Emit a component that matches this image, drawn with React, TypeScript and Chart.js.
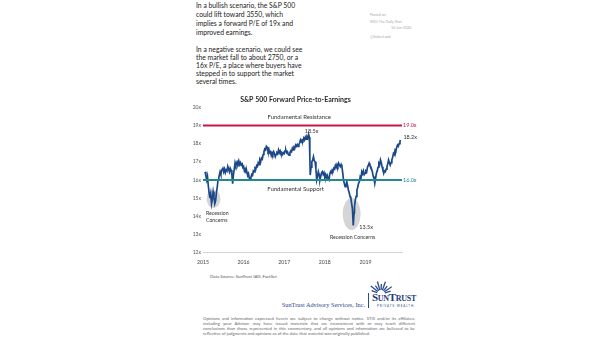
import React, { useEffect, useRef } from 'react';
import { Chart, registerables } from 'chart.js';

Chart.register(...registerables);

// ---------- DATA ----------
const pe2015 = [
  [2015.05, 16.45], [2015.07, 16.25], [2015.09, 16.0], [2015.11, 16.2], [2015.13, 15.7], [2015.15, 15.3],
  [2015.17, 15.0], [2015.19, 15.25], [2015.21, 14.7], [2015.23, 14.95], [2015.25, 15.35], [2015.27, 15.05],
  [2015.29, 14.7], [2015.31, 14.85], [2015.33, 15.3], [2015.35, 15.6], [2015.37, 16.0], [2015.39, 16.15],
  [2015.42, 16.45], [2015.44, 16.3], [2015.46, 16.55], [2015.49, 16.65], [2015.51, 16.45], [2015.53, 16.6],
  [2015.55, 16.4], [2015.57, 16.55], [2015.59, 16.5], [2015.61, 16.75], [2015.63, 16.6], [2015.65, 16.45],
  [2015.67, 16.65], [2015.69, 16.55], [2015.71, 16.3], [2015.73, 15.8], [2015.75, 16.3], [2015.77, 16.6],
  [2015.79, 16.95], [2015.81, 16.8], [2015.84, 17.0], [2015.86, 16.9], [2015.88, 17.05], [2015.9, 16.85],
  [2015.92, 16.95], [2015.94, 16.8], [2015.96, 16.95], [2015.98, 16.7],
];
const pe2016 = [
  [2016.0, 16.75], [2016.02, 16.5], [2016.04, 16.6], [2016.06, 16.4], [2016.08, 16.45], [2016.1, 16.25],
  [2016.12, 16.35], [2016.14, 16.1], [2016.16, 16.0], [2016.18, 16.15], [2016.2, 16.3], [2016.22, 16.25],
  [2016.24, 16.5], [2016.26, 16.45], [2016.28, 16.65], [2016.3, 16.6], [2016.32, 16.8], [2016.34, 16.75],
  [2016.36, 16.95], [2016.38, 16.85], [2016.4, 17.1], [2016.42, 17.0], [2016.44, 17.2], [2016.46, 17.15],
  [2016.48, 17.4], [2016.5, 17.55], [2016.52, 17.7], [2016.54, 17.65], [2016.56, 17.85], [2016.58, 17.8],
  [2016.6, 17.6], [2016.62, 17.7], [2016.64, 17.5], [2016.66, 17.55], [2016.68, 17.35], [2016.7, 17.5],
  [2016.72, 17.4], [2016.74, 17.55], [2016.76, 17.45], [2016.78, 17.28], [2016.8, 17.4], [2016.82, 17.5],
  [2016.84, 17.45], [2016.86, 17.65], [2016.88, 17.5], [2016.9, 17.6], [2016.92, 17.45], [2016.94, 17.5],
  [2016.96, 17.4], [2016.98, 17.5],
];
const pe2017 = [
  [2017.0, 17.45], [2017.02, 17.6], [2017.04, 17.65], [2017.06, 17.5], [2017.08, 17.55], [2017.1, 17.4],
  [2017.12, 17.37], [2017.14, 17.5], [2017.16, 17.6], [2017.18, 17.55], [2017.2, 17.74], [2017.22, 17.65],
  [2017.24, 17.8], [2017.26, 17.75], [2017.28, 17.92], [2017.3, 17.85], [2017.32, 17.95], [2017.34, 17.85],
  [2017.36, 17.92], [2017.38, 18.05], [2017.4, 18.2], [2017.42, 18.1], [2017.44, 18.2], [2017.46, 18.15],
  [2017.48, 18.3], [2017.5, 18.2], [2017.52, 18.35], [2017.54, 18.25], [2017.56, 18.38], [2017.58, 18.3],
  [2017.6, 18.5], [2017.62, 18.35], [2017.63, 17.3], [2017.64, 16.27], [2017.66, 16.7], [2017.68, 17.0],
  [2017.7, 17.1], [2017.72, 17.28], [2017.74, 17.05], [2017.76, 17.0], [2017.78, 16.6], [2017.8, 16.0],
  [2017.82, 16.2], [2017.84, 16.46], [2017.86, 16.3], [2017.88, 16.0], [2017.9, 16.2], [2017.92, 16.4],
  [2017.94, 16.46], [2017.96, 16.3], [2017.98, 16.4],
];
const pe2018 = [
  [2018.0, 16.2], [2018.02, 16.3], [2018.04, 16.15], [2018.06, 16.25], [2018.08, 16.05], [2018.1, 16.0],
  [2018.12, 16.3], [2018.14, 16.46], [2018.16, 16.4], [2018.18, 16.55], [2018.2, 16.5], [2018.22, 16.65],
  [2018.24, 16.6], [2018.26, 16.8], [2018.28, 16.7], [2018.3, 16.85], [2018.32, 16.75], [2018.34, 16.92],
  [2018.36, 16.8], [2018.38, 16.73], [2018.4, 16.85], [2018.42, 16.73], [2018.44, 16.4], [2018.46, 16.0],
  [2018.48, 15.8], [2018.5, 15.63], [2018.52, 15.75], [2018.54, 15.9], [2018.56, 15.7], [2018.58, 15.45],
  [2018.6, 15.3], [2018.62, 15.1], [2018.64, 15.0], [2018.66, 14.7], [2018.68, 14.4], [2018.7, 13.5],
  [2018.72, 14.2], [2018.73, 14.53], [2018.75, 14.9], [2018.77, 15.1], [2018.79, 15.45], [2018.81, 15.6],
  [2018.83, 15.82], [2018.85, 15.9], [2018.87, 16.18], [2018.89, 16.1], [2018.91, 16.46], [2018.93, 16.35],
  [2018.95, 16.5], [2018.97, 16.3], [2018.99, 16.37],
];
const pe2019 = [
  [2019.01, 16.5], [2019.03, 16.45], [2019.05, 16.7], [2019.07, 16.8], [2019.09, 16.92], [2019.11, 16.8],
  [2019.13, 16.73], [2019.15, 16.6], [2019.17, 16.46], [2019.19, 16.2], [2019.21, 16.1], [2019.23, 15.82],
  [2019.25, 16.1], [2019.27, 16.37], [2019.29, 16.5], [2019.31, 16.7], [2019.33, 16.92], [2019.35, 16.85],
  [2019.37, 17.1], [2019.39, 16.95], [2019.41, 16.73], [2019.43, 16.55], [2019.45, 16.37], [2019.47, 16.5],
  [2019.49, 16.46], [2019.51, 16.6], [2019.53, 16.73], [2019.55, 16.9], [2019.57, 17.1], [2019.59, 16.95],
  [2019.61, 16.82], [2019.63, 16.95], [2019.65, 17.1], [2019.67, 17.25], [2019.69, 17.46], [2019.71, 17.4],
  [2019.73, 17.65], [2019.75, 17.6], [2019.77, 17.8], [2019.79, 17.92], [2019.81, 17.85], [2019.83, 18.0],
  [2019.85, 18.1], [2019.86, 18.2],
];

const resistanceLevel = 19.0;
const supportLevel = 16.0;
const yMin = 12;
const yMax = 20;
const xMin = 2015;
const xMax = 2019.9;
const peakPoint = { x: 2017.6, y: 18.5, label: '18.5x' };
const troughPoint = { x: 2018.7, y: 13.5, label: '13.5x' };
const lastPoint = { x: 2019.86, y: 18.2, label: '18.2x' };
const recessionZones = [
  { x: 2015.26, y: 14.96 },
  { x: 2018.66, y: 14.13 },
];

// ---------- STYLE ----------
const NAVY = '#1a4888';
const RED = '#c3164b';
const TEAL = '#22898f';
const TEXT = '#333333';
const FONT = 'Lato';

const annotationPlugin = {
  id: 'peAnnotations',
  beforeDatasetsDraw(chart: any) {
    const { ctx, scales } = chart;
    const x = scales.x;
    const y = scales.y;
    const radii = [
      [7, 9],
      [9, 16],
    ];
    ctx.save();
    ctx.fillStyle = 'rgba(208,208,208,0.9)';
    recessionZones.forEach((z, i) => {
      ctx.beginPath();
      ctx.ellipse(x.getPixelForValue(z.x), y.getPixelForValue(z.y), radii[i][0], radii[i][1], 0, 0, Math.PI * 2);
      ctx.fill();
    });
    ctx.restore();
  },
  afterDatasetsDraw(chart: any) {
    const { ctx, scales, chartArea } = chart;
    const x = scales.x;
    const y = scales.y;
    ctx.save();
    ctx.textBaseline = 'middle';

    ctx.font = `6px ${FONT}`;
    ctx.fillStyle = TEXT;
    ctx.textAlign = 'center';
    ctx.fillText('Fundamental Resistance', x.getPixelForValue(2017.37), y.getPixelForValue(resistanceLevel) - 8);
    ctx.fillText('Fundamental Support', x.getPixelForValue(2017.28), y.getPixelForValue(supportLevel) + 9);

    ctx.textAlign = 'left';
    ctx.font = `5.5px ${FONT}`;
    ctx.fillStyle = RED;
    ctx.fillText(resistanceLevel.toFixed(1) + 'x', chartArea.right + 1, y.getPixelForValue(resistanceLevel));
    ctx.fillStyle = TEAL;
    ctx.fillText(supportLevel.toFixed(1) + 'x', chartArea.right + 1, y.getPixelForValue(supportLevel));

    ctx.fillStyle = TEXT;
    ctx.textAlign = 'center';
    ctx.fillText(peakPoint.label, x.getPixelForValue(peakPoint.x) + 3, y.getPixelForValue(peakPoint.y) - 3.5);
    ctx.textAlign = 'left';
    ctx.fillText(troughPoint.label, x.getPixelForValue(troughPoint.x) + 6, y.getPixelForValue(troughPoint.y) + 2);
    ctx.fillText(lastPoint.label, x.getPixelForValue(lastPoint.x) + 3, y.getPixelForValue(lastPoint.y) - 3);

    ctx.font = `5.2px ${FONT}`;
    ctx.fillText('Recession', chartArea.left + 3, y.getPixelForValue(14) - 3);
    ctx.fillText('Concerns', chartArea.left + 3, y.getPixelForValue(14) + 3.6);
    ctx.textAlign = 'center';
    ctx.fillText('Recession Concerns', x.getPixelForValue(recessionZones[1].x) + 1, y.getPixelForValue(13) + 3);
    ctx.restore();
  },
};

function PEChart() {
  const ref = useRef<HTMLCanvasElement | null>(null);
  useEffect(() => {
    if (!ref.current) return;
    const series = [...pe2015, ...pe2016, ...pe2017, ...pe2018, ...pe2019].map(([d, v]) => ({ x: d, y: v }));
    const chart = new Chart(ref.current, {
      type: 'line',
      data: {
        datasets: [
          {
            label: 'Forward P/E',
            data: series,
            borderColor: NAVY,
            borderWidth: 1.7,
            pointRadius: 0,
            tension: 0,
            order: 2,
          },
          {
            label: 'Fundamental Resistance',
            data: [
              { x: xMin, y: resistanceLevel },
              { x: xMax, y: resistanceLevel },
            ],
            borderColor: RED,
            borderWidth: 2,
            pointRadius: 0,
            order: 1,
          },
          {
            label: 'Fundamental Support',
            data: [
              { x: xMin, y: supportLevel },
              { x: xMax, y: supportLevel },
            ],
            borderColor: TEAL,
            borderWidth: 2,
            pointRadius: 0,
            order: 1,
          },
        ],
      },
      options: {
        responsive: false,
        animation: false,
        devicePixelRatio: 1,
        layout: { padding: { left: 0, right: 17, top: 0, bottom: 0 } },
        plugins: {
          legend: { display: false },
          tooltip: { enabled: false },
          title: {
            display: true,
            text: 'S&P 500 Forward Price-to-Earnings',
            color: '#2a2a2a',
            font: { family: FONT, size: 7, weight: 'bold' },
            padding: { top: 3.8, bottom: 3 },
          },
        },
        scales: {
          x: {
            type: 'linear',
            min: xMin,
            max: xMax,
            ticks: {
              stepSize: 1,
              includeBounds: false,
              autoSkip: false,
              maxRotation: 0,
              padding: 6,
              color: '#444',
              font: { family: FONT, size: 5.2 },
              callback: (v: any) => String(v),
            },
            grid: { display: false, drawTicks: false },
            border: { display: true, color: '#d4d4d4', width: 1 },
            afterFit: (s: any) => {
              s.height = 19.2;
            },
          },
          y: {
            type: 'linear',
            min: yMin,
            max: yMax,
            ticks: {
              stepSize: 1,
              padding: 2,
              color: '#555',
              font: { family: FONT, size: 5 },
              callback: (v: any) => v + 'x',
            },
            grid: { display: false, drawTicks: false },
            border: { display: false },
            afterFit: (s: any) => {
              s.width = 14;
            },
          },
        },
      } as any,
      plugins: [annotationPlugin as any],
    });
    return () => chart.destroy();
  }, []);
  return (
    <canvas
      ref={ref}
      width={230}
      height={180}
      style={{ position: 'absolute', left: 189, top: 92, width: 230, height: 180 }}
    />
  );
}

const abs = (left: number, top: number, extra: any = {}) => ({ position: 'absolute' as const, left, top, whiteSpace: 'nowrap' as const, ...extra });

const disclaimerLines = [
  'Opinions and information expressed herein are subject to change without notice. STIS and/or its affiliates,',
  'including your Advisor, may have issued materials that are inconsistent with or may reach different',
  'conclusions than those represented in this commentary, and all opinions and information are believed to be',
  'reflective of judgments and opinions as of the date that material was originally published.',
];

function SunIcon() {
  const rays = [200, 218, 236, 254, 272, 290, 308, 326, 344];
  return (
    <svg width={22} height={16} style={{ position: 'absolute', left: 370, top: 278 }}>
      {rays.map((a, i) => {
        const r = (a * Math.PI) / 180;
        const cx = 11;
        const cy = 16;
        return (
          <line
            key={i}
            x1={cx + Math.cos(r) * 4}
            y1={cy + Math.sin(r) * 4}
            x2={cx + Math.cos(r) * (i % 2 ? 13 : 10)}
            y2={cy + Math.sin(r) * (i % 2 ? 13 : 10)}
            stroke="#2a4b8d"
            strokeWidth={1.3}
          />
        );
      })}
    </svg>
  );
}

export default function App() {
  return (
    <div
      style={{
        position: 'absolute',
        left: 0,
        top: 0,
        width: 605,
        height: 341,
        background: '#ffffff',
        overflow: 'hidden',
        fontFamily: `${FONT}, sans-serif`,
        color: '#1a1a1a',
      }}
    >
      <div style={abs(196, 1, { fontSize: 6.8, lineHeight: '9px' })}>
        In a bullish scenario, the S&amp;P 500
        <br />
        could lift toward 3550, which
        <br />
        implies a forward P/E of 19x and
        <br />
        improved earnings.
      </div>
      <div style={abs(196, 45, { fontSize: 6.8, lineHeight: '8px' })}>
        In a negative scenario, we could see
        <br />
        the market fall to about 2750, or a
        <br />
        16x P/E, a place where buyers have
        <br />
        stepped in to support the market
        <br />
        several times.
      </div>

      <div style={abs(370, 13, { fontSize: 3.6, lineHeight: '4px', color: '#aaa' })}>Posted on</div>
      <div style={abs(370, 19.7, { fontSize: 3.6, lineHeight: '4px', color: '#aaa' })}>WSJ: The Daily Shot</div>
      <div style={abs(391, 26.3, { fontSize: 3.6, lineHeight: '4px', color: '#aaa' })}>16-Jun-2020</div>
      <div style={abs(370, 35.3, { fontSize: 3.8, lineHeight: '4px', color: '#aaa' })}>@SoberLook</div>

      <PEChart />

      <div style={abs(210, 274.5, { fontSize: 4.4, lineHeight: '4.4px', color: '#555' })}>
        Data Source: SunTrust IAG, FactSet
      </div>

      <SunIcon />
      <div style={{ position: 'absolute', left: 368, top: 293, width: 1, height: 15, background: '#2a4b8d' }} />
      <div
        style={abs(372, 291, {
          fontFamily: 'Liberation Serif, serif',
          fontSize: 11,
          lineHeight: '12px',
          fontWeight: 'bold',
          fontVariant: 'small-caps',
          color: '#1f3a7a',
          letterSpacing: -0.3,
        })}
      >
        SunTrust
      </div>
      <div style={abs(377, 305, { fontSize: 3, lineHeight: '3.4px', letterSpacing: 0.9, color: '#2a4b8d' })}>
        PRIVATE WEALTH
      </div>
      <div
        style={{
          position: 'absolute',
          right: 240,
          top: 301,
          whiteSpace: 'nowrap',
          fontFamily: 'Liberation Serif, serif',
          fontSize: 6.3,
          lineHeight: '8px',
          color: '#2c4a8a',
        }}
      >
        SunTrust Advisory Services, Inc.
      </div>

      {disclaimerLines.map((t, i) => (
        <div
          key={i}
          style={{
            position: 'absolute',
            left: 203,
            top: 315.8 + i * 5,
            width: 212,
            fontSize: 4.3,
            lineHeight: '5px',
            color: '#666',
            textAlign: 'justify',
            textAlignLast: i < 3 ? 'justify' : 'left',
            whiteSpace: 'nowrap',
          }}
        >
          {t}
        </div>
      ))}
    </div>
  );
}
